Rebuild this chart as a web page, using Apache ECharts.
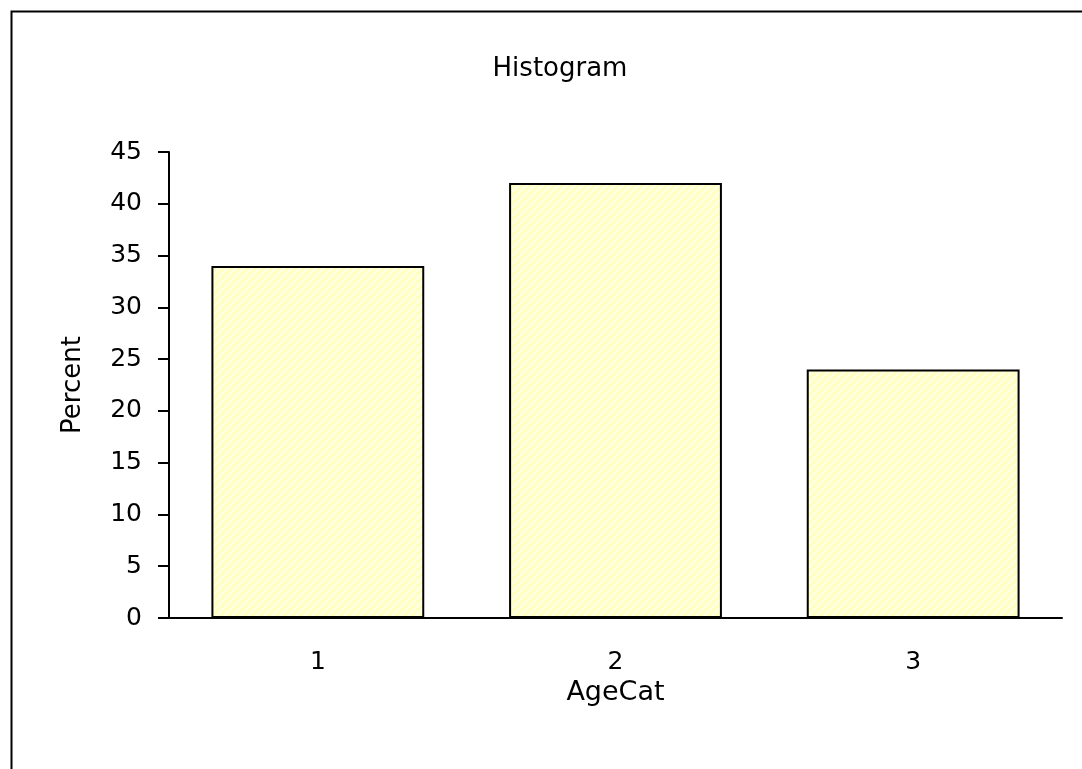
<!DOCTYPE html>
<html>
<head>
<meta charset="utf-8">
<script src="https://cdn.jsdelivr.net/npm/echarts@6/dist/echarts.min.js"></script>
<style>
  html, body { margin: 0; padding: 0; background: #fff; }
  #chart { width: 1082px; height: 769px; }
</style>
</head>
<body>
<div id="chart"></div>
<script>
// data
const categories = ['1', '2', '3'];
const percentValues = [34, 42, 24];
const yTicks = { min: 0, max: 45, interval: 5 };

const FONT = 'DejaVu Sans, Verdana, sans-serif';

// pale yellow hatch like the old excel fill
function makeHatch() {
  const size = 8;
  const c = document.createElement('canvas');
  c.width = size;
  c.height = size;
  const ctx = c.getContext('2d');
  ctx.fillStyle = '#ffffc0';
  ctx.fillRect(0, 0, size, size);
  ctx.strokeStyle = '#ffffe8';
  ctx.lineWidth = 2.5;
  // "/" stripes, drawn three times so it tiles
  for (let k = -1; k <= 1; k++) {
    ctx.beginPath();
    ctx.moveTo(k * size, size);
    ctx.lineTo(k * size + size, 0);
    ctx.stroke();
  }
  return c;
}

const chart = echarts.init(document.getElementById('chart'), null, { renderer: 'canvas' });

const option = {
  backgroundColor: '#fff',
  animation: false,
  title: {
    text: 'Histogram',
    left: 555,
    top: 51,
    textAlign: 'center',
    textStyle: {
      fontFamily: FONT,
      fontSize: 26,
      fontWeight: 'normal',
      color: '#000',
    },
  },
  graphic: [
    {
      type: 'rect',
      left: 9,
      top: 9,
      shape: { x: 0, y: 0, width: 1200, height: 1000 },
      style: { fill: 'none', stroke: '#000', lineWidth: 2 },
      silent: true,
    },
  ],
  grid: {
    left: 169,
    right: 20,
    top: 152,
    bottom: 151,
    containLabel: false,
  },
  xAxis: {
    type: 'category',
    data: categories,
    name: 'AgeCat',
    nameLocation: 'middle',
    nameGap: 55,
    nameTextStyle: { fontFamily: FONT, fontSize: 27, color: '#000' },
    axisLine: { show: true, lineStyle: { color: '#000', width: 2 } },
    axisTick: { show: false },
    axisLabel: { fontFamily: FONT, fontSize: 25, color: '#000', margin: 32 },
    splitLine: { show: false },
  },
  yAxis: {
    type: 'value',
    min: yTicks.min,
    max: yTicks.max,
    interval: yTicks.interval,
    name: 'Percent',
    nameLocation: 'middle',
    nameGap: 83,
    nameRotate: 90,
    nameTextStyle: { fontFamily: FONT, fontSize: 26, color: '#000' },
    axisLine: { show: true, lineStyle: { color: '#000', width: 2 } },
    axisTick: { show: true, length: 11, inside: false, lineStyle: { color: '#000', width: 2 } },
    axisLabel: { fontFamily: FONT, fontSize: 25, color: '#000', margin: 27 },
    splitLine: { show: false },
  },
  series: [
    {
      name: 'Percent',
      type: 'bar',
      data: percentValues,
      barCategoryGap: '28.5%',
      itemStyle: {
        color: { image: makeHatch(), repeat: 'repeat' },
        borderColor: '#000',
        borderWidth: 2,
      },
    },
  ],
};

chart.setOption(option);
</script>
</body>
</html>
